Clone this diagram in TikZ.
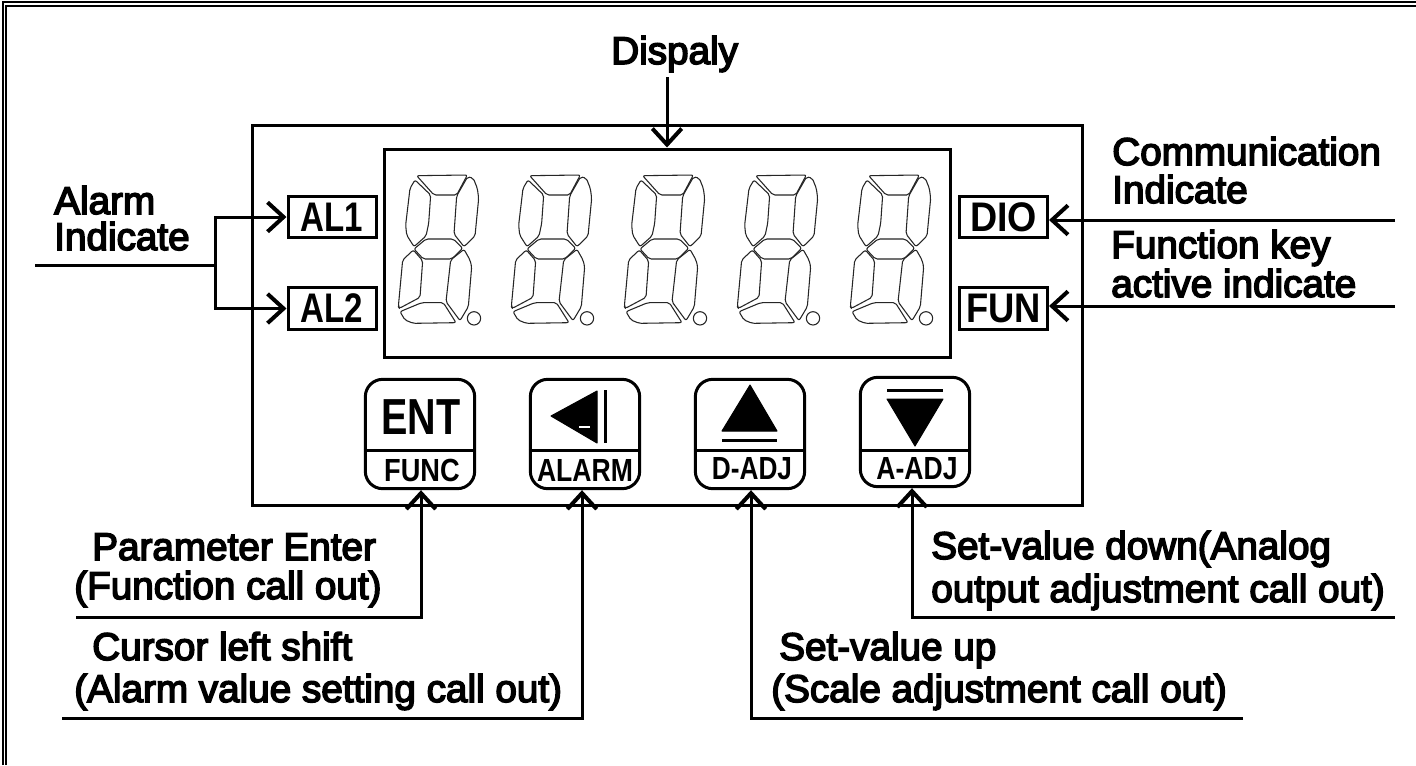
\documentclass[tikz,border=0pt]{standalone}
\usepackage{fontspec}
\setmainfont{Liberation Sans}
\newfontfamily\labfont[FakeBold=4]{Liberation Sans}
\usetikzlibrary{arrows.meta}
\newcommand{\sevenseg}[1]{%
\begin{scope}[shift={(240+#1,110)},x=0.25pt,y=-0.25pt,segline]
\draw (530,197)--(682,195)--(650,255)--(582,255)--cycle;
\draw (525,210)--(572,255)--(566,340)--(558,378)--(522,410)--(500,375)--(497,345)--(510,235)--cycle;
\draw (683,200)--(700,205)--(712,235)--(716,265)--(705,378)--(672,410)--(642,372)--(650,258)--cycle;
\draw (558,387)--(640,387)--(668,415)--(635,447)--(550,447)--(522,417)--cycle;
\draw (520,420)--(548,452)--(540,562)--(478,595)--(475,590)--(488,450)--cycle;
\draw (672,418)--(690,450)--(695,470)--(685,590)--(660,632)--(618,575)--(632,450)--cycle;
\draw (480,605)--(545,578)--(610,578)--(648,638)--(520,640)--(495,630)--cycle;
\draw (702,625) circle (20);
\end{scope}}
\tikzset{
 heavy/.style={line width=2.25pt,draw=black},
 segline/.style={line width=0.8pt,draw=black!85,line join=round,rounded corners=1.5pt},
 lab/.style={anchor=base west,inner sep=0pt,font=\labfont\fontsize{29}{29}\selectfont},
 ind/.style={heavy,inner sep=0pt,minimum width=66pt,minimum height=31pt,font=\bfseries\fontsize{31}{31}\selectfont},
 key/.style={heavy,rounded corners=13pt,inner sep=0pt,minimum width=82pt,minimum height=82pt},
 keybig/.style={inner sep=0pt,font=\bfseries\fontsize{38}{38}\selectfont},
 keysmall/.style={inner sep=0pt,font=\bfseries\fontsize{24}{24}\selectfont},
 barbed/.style={heavy,-{Straight Barb[length=12pt,width=22pt,line width=3pt]}},
 wire/.style={heavy,line cap=butt},
 solidfill/.style={fill=black,draw=black,line width=0.75pt,line join=round},
}
\begin{document}
\begin{tikzpicture}[x=0.75pt,y=-0.75pt]
\useasboundingbox (0,0) rectangle (1416,765);
\fill[white] (0,0) rectangle (1416,765);
% page frame
\draw[line width=1.5pt] (2.5,765)--(2.5,1.8)--(1416,1.8);
\draw[line width=1.5pt] (5.8,765)--(5.8,5.5)--(1416,5.5);
% panel
\node[heavy,inner sep=0pt,minimum width=622pt,minimum height=285pt] (panel) at (667.5,315) {};
\node[heavy,inner sep=0pt,minimum width=425pt,minimum height=156pt] (display) at (667.5,253) {};
\foreach \d in {0,113,226,339,452}{\sevenseg{\d}}
% indicators
\node[ind] (al1) at (332,217) {\scalebox{.8}[1]{AL1}};
\node[ind] (al2) at (332,308.5) {\scalebox{.8}[1]{AL2}};
\node[ind] (dio) at (1003.5,217) {\scalebox{.91}[1]{DIO}};
\node[ind] (fun) at (1003.5,308.5) {\scalebox{.88}[1]{FUN}};
% keys
\node[key] (k1) at (420,434) {};
\node[key] (k2) at (585,434) {};
\node[key] (k3) at (750,434) {};
\node[key] (k4) at (915,432) {};
\draw[heavy] (k1.west|-0,450)--(k1.east|-0,450);
\draw[heavy] (k2.west|-0,450)--(k2.east|-0,450);
\draw[heavy] (k3.west|-0,450)--(k3.east|-0,450);
\draw[heavy] (k4.west|-0,450)--(k4.east|-0,450);
\node[keybig] (entt) at (421,417) {\scalebox{.78}[1]{ENT}};
\node[keysmall] (func) at (422,470) {\scalebox{.85}[1]{FUNC}};
\node[keysmall] (alarm) at (585,470) {\scalebox{.83}[1]{ALARM}};
\node[keysmall] (dadj) at (752,469) {\scalebox{.82}[1]{D-ADJ}};
\node[keysmall] (aadj) at (917,469) {\scalebox{.83}[1]{A-ADJ}};
\fill[solidfill] (551,416)--(597,391)--(597,443)--cycle;
\draw[white,line width=0.9pt] (579,427)--(590,427);
\draw[heavy] (605,390)--(605,443);
\fill[solidfill] (750,385)--(777,431)--(722,431)--cycle;
\draw[heavy] (722,440)--(777,440);
\draw[heavy] (887,390)--(943,390);
\fill[solidfill] (887,399)--(943,399)--(915,446)--cycle;
% labels
\node[lab] (t0) at (611,64) {Dispaly};
\node[lab] (t1) at (54,214) {Alarm};
\node[lab] (t2) at (54,250) {Indicate};
\node[lab] (t3) at (1112,165) {Communication};
\node[lab] (t4) at (1112,203) {Indicate};
\node[lab] (t5) at (1111,258) {Function key};
\node[lab] (t6) at (1111,297) {active indicate};
\node[lab] (t7) at (92,560) {Parameter Enter};
\node[lab] (t8) at (74,599) {(Function call out)};
\node[lab] (t9) at (92,660) {Cursor left shift};
\node[lab] (t10) at (74,702) {(Alarm value setting call out)};
\node[lab] (t11) at (931,559) {Set-value down(Analog};
\node[lab] (t12) at (931,602) {output adjustment call out)};
\node[lab] (t13) at (779,660) {Set-value up};
\node[lab] (t14) at (771,702) {(Scale adjustment call out)};
% free ends
\coordinate (c0) at (667,77);
\coordinate (aL) at (35,265);
\coordinate (aJ) at (215,265);
\coordinate (a1) at (215,217);
\coordinate (a2) at (215,308.5);
\coordinate (dR) at (1395,220);
\coordinate (fR) at (1395,306);
\coordinate (e1) at (76,617);
\coordinate (e2) at (421,617);
\coordinate (e3) at (62,718);
\coordinate (e4) at (582,718);
\coordinate (e5) at (1243,718);
\coordinate (e6) at (751,718);
\coordinate (e7) at (1395,617);
\coordinate (e8) at (912,617);
% connectors
\draw[barbed] (c0)--(c0|-display.north);
\draw[wire] (aL)--(aJ);
\draw[barbed] (aJ)--(a1)--(al1.west);
\draw[barbed] (aJ)--(a2)--(al2.west);
\draw[barbed] (dR)--(dio.east|-dR);
\draw[barbed] (fR)--(fun.east|-fR);
\draw[barbed] (e1)--(e2)--(e2|-k1.south);
\draw[barbed] (e3)--(e4)--(e4|-k2.south);
\draw[barbed] (e5)--(e6)--(e6|-k3.south);
\draw[barbed] (e7)--(e8)--(e8|-k4.south);
\end{tikzpicture}
\end{document}
